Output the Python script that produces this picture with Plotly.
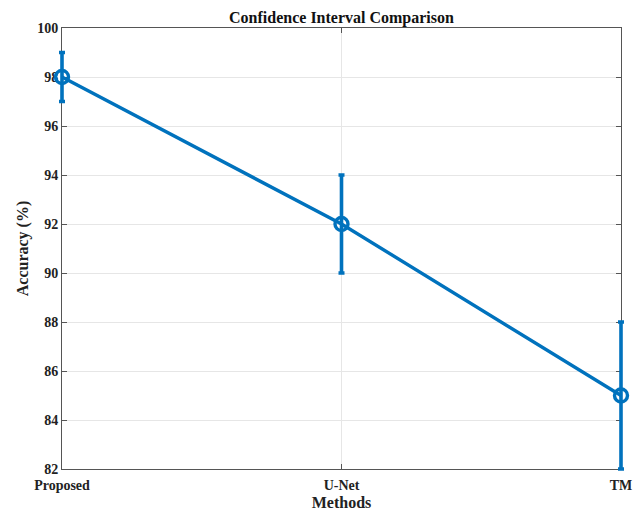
import plotly.graph_objects as go

methods = ["Proposed", "U-Net", "TM"]
accuracy = [98, 92, 85]
ci_half = [1, 2, 3]
y_ticks = [82, 84, 86, 88, 90, 92, 94, 96, 98, 100]

blue = "#0072BD"
font_family = "Liberation Serif, Times New Roman, serif"
W, H = 642, 512

# Frame of the axes box, in pixels
box_l, box_r, box_t, box_b = 62, 621, 28, 469
pad = 10  # extra room so edge markers and error bars are not clipped

plot_w = W - (box_l - pad) - (W - box_r - pad)
plot_h = H - (box_t - pad) - (H - box_b - pad)
x_per_px = 2 / (box_r - box_l)
y_per_px = 18 / (box_b - box_t)
ex = pad * x_per_px
ey = pad * y_per_px

fig = go.Figure()

# Subplot carrying the box, grid, ticks and labels
fig.add_trace(go.Scatter(x=[], y=[], xaxis="x", yaxis="y", showlegend=False, hoverinfo="skip"))

# Data subplot drawn on top, with a slightly wider range so nothing is clipped
fig.add_trace(go.Scatter(
    x=list(range(len(methods))),
    y=accuracy,
    xaxis="x2", yaxis="y2",
    mode="lines+markers",
    line=dict(color=blue, width=3.4),
    marker=dict(symbol="circle-open", size=13, color=blue, line=dict(width=3.4, color=blue)),
    error_y=dict(type="data", array=ci_half, visible=True, color=blue, thickness=3.6, width=3),
    cliponaxis=False,
    showlegend=False,
))

axis_common = dict(
    showline=True, mirror="ticks", linecolor="#555555", linewidth=1,
    ticks="inside", ticklen=5, tickcolor="#555555",
    showgrid=True, gridcolor="#e6e6e6", gridwidth=1,
    zeroline=False, automargin=False,
    tickfont=dict(family=font_family, size=14, color="#222222"),
)

fig.update_layout(
    width=W, height=H,
    margin=dict(l=box_l - pad, r=W - box_r - pad, t=box_t - pad, b=H - box_b - pad),
    paper_bgcolor="white", plot_bgcolor="rgba(0,0,0,0)",
    font=dict(family=font_family, color="#222222"),
    title=dict(text="<b>Confidence Interval Comparison</b>", x=(box_l + box_r) / 2 / W, xanchor="center",
               y=1 - 17 / H, yanchor="middle",
               font=dict(family=font_family, size=16, color="#111111")),
    xaxis=dict(
        **axis_common,
        domain=[pad / plot_w, 1 - pad / plot_w],
        anchor="y",
        range=[0, 2],
        tickmode="array",
        tickvals=list(range(len(methods))),
        ticktext=[f"<b>{m}</b>" for m in methods],
        ticklabelstandoff=3,
        title=dict(text="<b>Methods</b>", standoff=5,
                   font=dict(family=font_family, size=16, color="#222222")),
    ),
    yaxis=dict(
        **axis_common,
        domain=[pad / plot_h, 1 - pad / plot_h],
        anchor="x",
        range=[82, 100],
        tickmode="array",
        tickvals=y_ticks,
        ticktext=[f"<b>{v}</b>" for v in y_ticks],
        title=dict(text="<b>Accuracy (%)</b>", standoff=4,
                   font=dict(family=font_family, size=16, color="#222222")),
    ),
    xaxis2=dict(domain=[0, 1], anchor="y2", range=[-ex, 2 + ex], visible=False, automargin=False),
    yaxis2=dict(domain=[0, 1], anchor="x2", range=[82 - ey, 100 + ey], visible=False, automargin=False),
)

fig.write_html("out.html")
